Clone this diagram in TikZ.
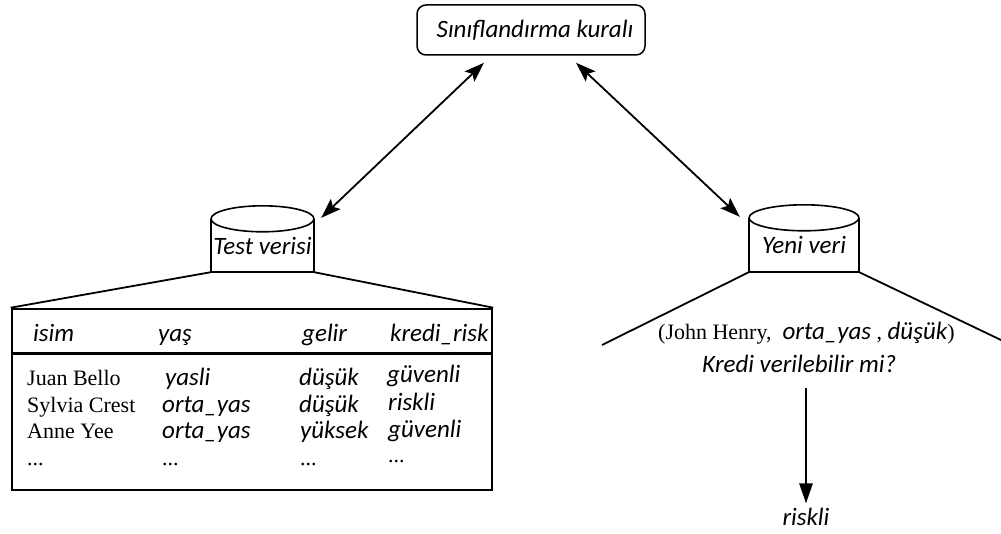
\documentclass[tikz,border=0pt]{standalone}
\usepackage{fontspec}
\setmainfont{Liberation Serif}
\newfontfamily\lblfont{Carlito}
\usetikzlibrary{arrows.meta}
\newcommand{\lblsize}{\lblfont\itshape\fontsize{25}{29}\selectfont}
\tikzset{
  lbl/.style={font=\lblsize},
  ser/.style={font=\fontsize{22}{26}\selectfont},
  cell/.style={anchor=base west, inner sep=0pt},
  bodyline/.style={line width=1.6pt, line join=round},
  biarrow/.style={line width=1.8pt, {Stealth[length=20pt,width=14pt,inset=4pt]}-{Stealth[length=20pt,width=14pt,inset=4pt]}},
  downarrow/.style={line width=2.6pt, -{Triangle[length=20pt,width=13pt]}},
  trap/.style={line width=1.8pt},
  tbl/.style={draw, line width=2.6pt, inner sep=0pt}
}
\begin{document}
\begin{tikzpicture}[x=1pt,y=-1pt]
\useasboundingbox (0,0) rectangle (1001,534);
% rule box
\node[draw, lbl, rounded corners=9pt, line width=1.5pt, minimum width=228pt, minimum height=50pt, inner sep=0pt] (rule) at (531,30) {\hspace*{8pt}Sınıflandırma kuralı};
% test cylinder
\node[lbl, minimum width=103pt, minimum height=53pt, inner sep=0pt] (test) at (262.5,245.5) {Test verisi};
\draw[bodyline] (test.north west) -- (test.south west) -- (test.south east) -- (test.north east);
\draw[bodyline] (test.north) ellipse [x radius=51.5pt, y radius=13pt];
% yeni cylinder
\node[lbl, minimum width=110pt, minimum height=54pt, inner sep=0pt] (yeni) at (804,245) {Yeni veri};
\draw[bodyline] (yeni.north west) -- (yeni.south west) -- (yeni.south east) -- (yeni.north east);
\draw[bodyline] (yeni.north) ellipse [x radius=55pt, y radius=13pt];
% arrows
\draw[biarrow] ([xshift=-47pt,yshift=-7pt]rule.south) -- ([xshift=7pt,yshift=1pt]test.north east);
\draw[biarrow] ([xshift=45pt,yshift=-7pt]rule.south) -- ([xshift=-9pt,yshift=1pt]yeni.north west);
% table
\node[tbl, minimum width=480pt, minimum height=181pt] (table) at (252,399.5) {};
\draw[tbl] ([yshift=-46pt]table.north west) -- ([yshift=-46pt]table.north east);
\draw[trap] (test.south west) -- (table.north west);
\draw[trap] (test.south east) -- (table.north east);
% header
\node[cell, lbl] (h1) at (33,342) {isim};
\node[cell, lbl] (h2) at (158,342) {yaş};
\node[cell, lbl] (h3) at (302,342) {gelir};
\node[cell, lbl] (h4) at (390,342) {kredi\_risk};
% rows
\node[cell, ser] (n1) at (27,385) {Juan Bello};
\node[cell, ser] (n2) at (27,412) {Sylvia Crest};
\node[cell, ser] (n3) at (27,438) {Anne Yee};
\node[cell, ser] (n4) at (27,465) {...};
\node[cell, lbl] (a1) at (165,385) {yasli};
\node[cell, lbl] (a2) at (162,412) {orta\_yas};
\node[cell, lbl] (a3) at (162,438) {orta\_yas};
\node[cell, ser] (a4) at (162,465) {...};
\node[cell, lbl] (g1) at (299,385) {düşük};
\node[cell, lbl] (g2) at (299,412) {düşük};
\node[cell, lbl] (g3) at (300,438) {yüksek};
\node[cell, ser] (g4) at (300,465) {...};
\node[cell, lbl] (k1) at (387,383) {güvenli};
\node[cell, lbl] (k2) at (388,410) {riskli};
\node[cell, lbl] (k3) at (388,437) {güvenli};
\node[cell, ser] (k4) at (388,462) {...};
% right side
\coordinate (tl) at (602,345);
\coordinate (tr) at (1001,340);
\draw[trap] (yeni.south west) -- (tl);
\draw[trap] (yeni.south east) -- (tr);
\node[cell, ser] (jh) at (658,340) {(John Henry,\ \ {\lblsize orta\_yas} , {\lblsize düşük})};
\node[cell, lbl] (kredi) at (702,373) {Kredi verilebilir mi?};
\node[lbl, anchor=base, inner sep=0pt] (riskli) at (806,525) {riskli};
\draw[downarrow, shorten <=15pt, shorten >=4pt] (riskli.north |- kredi.south) -- (riskli.north);
\end{tikzpicture}
\end{document}
